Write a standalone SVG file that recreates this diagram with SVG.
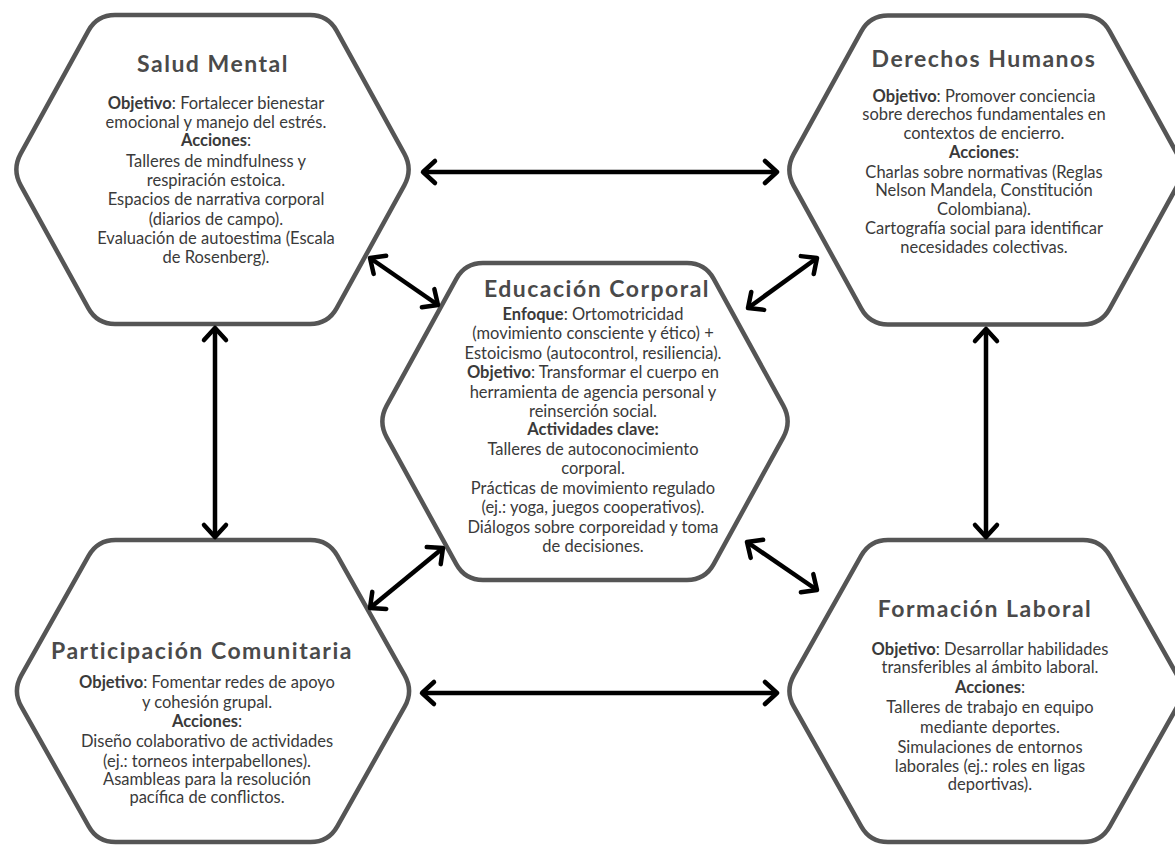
<svg xmlns="http://www.w3.org/2000/svg" width="1175" height="846" viewBox="0 0 1175 846">
<defs>
<style>
.hex{fill:#ffffff;stroke:#555555;stroke-width:4.5}
.ttl{font-family:Lato,"Open Sans","Liberation Sans",sans-serif;font-weight:700;font-size:23px;fill:#4a4a4a;text-anchor:middle;letter-spacing:1.5px}
.bd{font-family:Lato,"Open Sans","Liberation Sans",sans-serif;font-size:16.5px;fill:#3a3a3a;text-anchor:middle}
.b{font-weight:700}
.cn{stroke:#000000;stroke-width:4.5;fill:none;marker-start:url(#ah);marker-end:url(#ah)}
</style>
<marker id="ah" markerUnits="userSpaceOnUse" viewBox="-16 -15 20 30" refX="0" refY="0" markerWidth="20" markerHeight="30" orient="auto-start-reverse">
<path d="M-12,-11 L0,0 L-12,11" fill="none" stroke="#000000" stroke-width="4.5" stroke-linecap="round" stroke-linejoin="round"/>
</marker>
<path id="hexTop" d="M-191.8,-15.8 L-124.2,-138.7 Q-115.5,-154.5 -97.5,-154.5 L97.5,-154.5 Q115.5,-154.5 124.2,-138.7 L191.8,-15.8 Q200.5,0 191.8,15.8 L124.2,138.7 Q115.5,154.5 97.5,154.5 L-97.5,154.5 Q-115.5,154.5 -124.2,138.7 L-191.8,15.8 Q-200.5,0 -191.8,-15.8 Z"/>
<path id="hexBot" d="M-191.7,-15.7 L-124.3,-135.3 Q-115.5,-151 -97.5,-151 L97.5,-151 Q115.5,-151 124.3,-135.3 L191.7,-15.7 Q200.5,0 191.7,15.7 L124.3,135.3 Q115.5,151 97.5,151 L-97.5,151 Q-115.5,151 -124.3,135.3 L-191.7,15.7 Q-200.5,0 -191.7,-15.7 Z"/>
</defs>
<rect width="1175" height="846" fill="#ffffff"/>

<g id="salud-mental">
<use href="#hexTop" class="hex" transform="translate(212.5,169.5)"/>
<text class="ttl" x="213" y="72">Salud Mental</text>
<text class="bd" x="216" y="109"><tspan class="b">Objetivo</tspan>: Fortalecer bienestar</text>
<text class="bd" x="216" y="128">emocional y manejo del estrés.</text>
<text class="bd" x="216" y="146"><tspan class="b">Acciones</tspan>:</text>
<text class="bd" x="216" y="167">Talleres de mindfulness y</text>
<text class="bd" x="216" y="186">respiración estoica.</text>
<text class="bd" x="216" y="205">Espacios de narrativa corporal</text>
<text class="bd" x="216" y="225">(diarios de campo).</text>
<text class="bd" x="216" y="244">Evaluación de autoestima (Escala</text>
<text class="bd" x="216" y="263">de Rosenberg).</text>
</g>

<g id="derechos-humanos">
<use href="#hexTop" class="hex" transform="translate(985.5,170)"/>
<text class="ttl" x="984" y="67">Derechos Humanos</text>
<text class="bd" x="984" y="102"><tspan class="b">Objetivo</tspan>: Promover conciencia</text>
<text class="bd" x="984" y="120">sobre derechos fundamentales en</text>
<text class="bd" x="984" y="139">contextos de encierro.</text>
<text class="bd" x="984" y="158"><tspan class="b">Acciones</tspan>:</text>
<text class="bd" x="984" y="178">Charlas sobre normativas (Reglas</text>
<text class="bd" x="984" y="196">Nelson Mandela, Constitución</text>
<text class="bd" x="984" y="215">Colombiana).</text>
<text class="bd" x="984" y="234">Cartografía social para identificar</text>
<text class="bd" x="984" y="253">necesidades colectivas.</text>
</g>

<g id="educacion-corporal">
<path class="hex" transform="translate(585,421.5)" d="M-198.3,-15.8 L-128.7,-142.7 Q-120,-158.5 -102,-158.5 L102,-158.5 Q120,-158.5 128.7,-142.7 L198.3,-15.8 Q207,0 198.3,15.8 L128.7,142.7 Q120,158.5 102,158.5 L-102,158.5 Q-120,158.5 -128.7,142.7 L-198.3,15.8 Q-207,0 -198.3,-15.8 Z"/>
<text class="ttl" x="597" y="297">Educación Corporal</text>
<text class="bd" x="593" y="320"><tspan class="b">Enfoque</tspan>: Ortomotricidad</text>
<text class="bd" x="593" y="339">(movimiento consciente y ético) +</text>
<text class="bd" x="593" y="359">Estoicismo (autocontrol, resiliencia).</text>
<text class="bd" x="593" y="378"><tspan class="b">Objetivo</tspan>: Transformar el cuerpo en</text>
<text class="bd" x="593" y="398">herramienta de agencia personal y</text>
<text class="bd" x="593" y="417">reinserción social.</text>
<text class="bd b" x="593" y="435">Actividades clave:</text>
<text class="bd" x="593" y="455">Talleres de autoconocimiento</text>
<text class="bd" x="593" y="474">corporal.</text>
<text class="bd" x="593" y="494">Prácticas de movimiento regulado</text>
<text class="bd" x="593" y="513">(ej.: yoga, juegos cooperativos).</text>
<text class="bd" x="593" y="533">Diálogos sobre corporeidad y toma</text>
<text class="bd" x="593" y="552">de decisiones.</text>
</g>

<g id="participacion-comunitaria">
<use href="#hexBot" class="hex" transform="translate(213,691)"/>
<text class="ttl" x="202" y="659">Participación Comunitaria</text>
<text class="bd" x="207" y="688"><tspan class="b">Objetivo</tspan>: Fomentar redes de apoyo</text>
<text class="bd" x="207" y="708">y cohesión grupal.</text>
<text class="bd" x="207" y="727"><tspan class="b">Acciones</tspan>:</text>
<text class="bd" x="207" y="747">Diseño colaborativo de actividades</text>
<text class="bd" x="207" y="767">(ej.: torneos interpabellones).</text>
<text class="bd" x="207" y="785">Asambleas para la resolución</text>
<text class="bd" x="207" y="803">pacífica de conflictos.</text>
</g>

<g id="formacion-laboral">
<use href="#hexBot" class="hex" transform="translate(985.5,691)"/>
<text class="ttl" x="985" y="617">Formación Laboral</text>
<text class="bd" x="990" y="655"><tspan class="b">Objetivo</tspan>: Desarrollar habilidades</text>
<text class="bd" x="990" y="673">transferibles al ámbito laboral.</text>
<text class="bd" x="990" y="693"><tspan class="b">Acciones</tspan>:</text>
<text class="bd" x="990" y="713">Talleres de trabajo en equipo</text>
<text class="bd" x="990" y="733">mediante deportes.</text>
<text class="bd" x="990" y="753">Simulaciones de entornos</text>
<text class="bd" x="990" y="772">laborales (ej.: roles en ligas</text>
<text class="bd" x="990" y="790">deportivas).</text>
</g>

<g id="connectors">
<line class="cn" x1="423" y1="172" x2="777" y2="172"/>
<line class="cn" x1="422" y1="693" x2="777" y2="693"/>
<line class="cn" x1="215" y1="328" x2="215" y2="537"/>
<line class="cn" x1="986" y1="329" x2="986" y2="537"/>
<line class="cn" x1="370" y1="258" x2="438" y2="305"/>
<line class="cn" x1="817" y1="258" x2="748" y2="308"/>
<line class="cn" x1="443" y1="548" x2="370" y2="608"/>
<line class="cn" x1="747" y1="542" x2="817" y2="590"/>
</g>
</svg>
